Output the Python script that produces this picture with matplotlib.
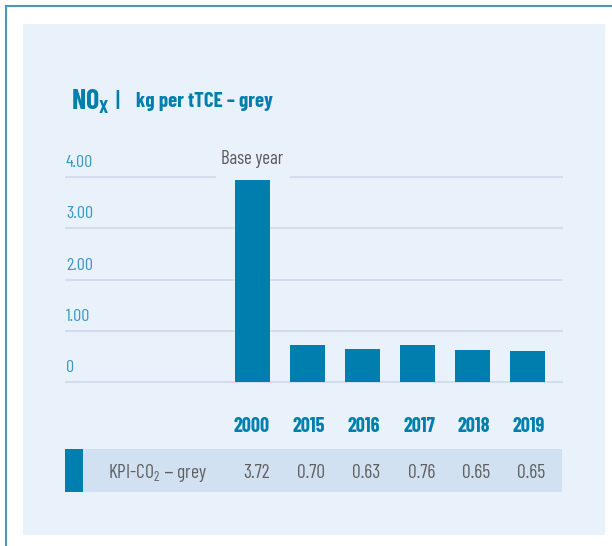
import matplotlib
matplotlib.use("Agg")
import matplotlib.pyplot as plt
from matplotlib.patches import Rectangle
from matplotlib.lines import Line2D
import matplotlib.transforms as mtransforms

plt.rcParams['font.family'] = ['Barlow Condensed', 'DejaVu Sans']
plt.rcParams['mathtext.default'] = 'regular'

# data
years = ['2000', '2015', '2016', '2017', '2018', '2019']
bar_values = [3.95, 0.72, 0.64, 0.72, 0.62, 0.60]   # heights as drawn
table_values = ['3.72', '0.70', '0.63', '0.76', '0.65', '0.65']
yticks = [0, 1, 2, 3, 4]
ytick_labels = ['0', '1.00', '2.00', '3.00', '4.00']
row_label = r'KPI-CO$_2$ – grey'

BAR = '#007fae'
PANEL = '#e9f1fb'
GRID = '#d2deee'
ROW = '#d1e1f1'
TICK = '#3a98c6'
GREY = '#606060'

W, H = 612, 546
fig = plt.figure(figsize=(W / 100, H / 100), dpi=100)
fig.patch.set_facecolor('white')


def fx(px):
    return px / W


def fy(py):
    return 1 - py / H


# outer frame + panel
fig.add_artist(Line2D([fx(6), fx(612)], [fy(6), fy(6)], color='#4d97b8', lw=1.5))
fig.add_artist(Line2D([fx(6), fx(6)], [fy(6), fy(546)], color='#4d97b8', lw=1.5))
fig.add_artist(Rectangle((fx(23), fy(535)), fx(605) - fx(23), fy(24) - fy(535),
                         transform=fig.transFigure, facecolor=PANEL, edgecolor='none', zorder=0))

# title
fig.text(fx(71), fy(109), r'NO$_X$', fontsize=20, fontweight='bold', color=BAR, va='baseline')
fig.text(fx(115), fy(107), '|', fontsize=16, fontweight='semibold', color=BAR, va='baseline')
fig.text(fx(136), fy(107), 'kg per tTCE – grey', fontsize=15, fontweight='bold', color=BAR, va='baseline')

# bar axes
x0, x1 = 66, 562
ytop, ybot = 177.3, 381.7
ax = fig.add_axes([fx(x0), fy(ybot), fx(x1) - fx(x0), fy(ytop) - fy(ybot)])
ax.set_zorder(3)
ax.set_facecolor('none')
for s in ax.spines.values():
    s.set_visible(False)
ax.set_xticks([])
ax.set_yticks([])
xl = (x0 - 252.5) / 55
xr = (x1 - 252.5) / 55
ax.set_xlim(xl, xr)
ax.set_ylim(0, 4)

idx = list(range(len(years)))
bw = 35 / 55

for v in yticks[:-1]:
    ax.plot([xl, xr], [v, v], color=GRID, lw=1.5, zorder=1, clip_on=False)
# top gridline broken for the "Base year" label
ax.plot([xl, -0.68], [4, 4], color=GRID, lw=1.5, zorder=1, clip_on=False)
ax.plot([0.70, xr], [4, 4], color=GRID, lw=1.5, zorder=1, clip_on=False)

ax.bar(idx, bar_values, width=bw, color=BAR, zorder=2)

for v, lab in zip(yticks, ytick_labels):
    ax.annotate(lab, (xl, v), xytext=(0, 5), textcoords='offset points',
                ha='left', va='bottom', fontsize=13, color=TICK)

ax.annotate('Base year', (0, 4), xytext=(0, 6.5), textcoords='offset points',
            ha='center', va='bottom', fontsize=13.5, color='#5a5a5a')

# year labels and table row
tr = mtransforms.blended_transform_factory(ax.transData, fig.transFigure)
for i, y in enumerate(years):
    ax.text(i + bw / 2, fy(427), y, transform=tr, ha='right', va='center',
            fontsize=14.5, fontweight='bold', color=BAR, clip_on=False)

fig.add_artist(Rectangle((fx(65), fy(492)), fx(562) - fx(65), fy(449) - fy(492),
                         transform=fig.transFigure, facecolor=ROW, edgecolor='none', zorder=1))
fig.add_artist(Rectangle((fx(65), fy(492)), fx(83) - fx(65), fy(449) - fy(492),
                         transform=fig.transFigure, facecolor=BAR, edgecolor='none', zorder=2))
fig.text(fx(108), fy(473), row_label, ha='left', va='center', fontsize=14,
         color=GREY, zorder=3)
for i, t in enumerate(table_values):
    ax.text(i + bw / 2, fy(473), t, transform=tr, ha='right', va='center',
            fontsize=14, color=GREY, clip_on=False)

fig.savefig('out.png', dpi=100)
